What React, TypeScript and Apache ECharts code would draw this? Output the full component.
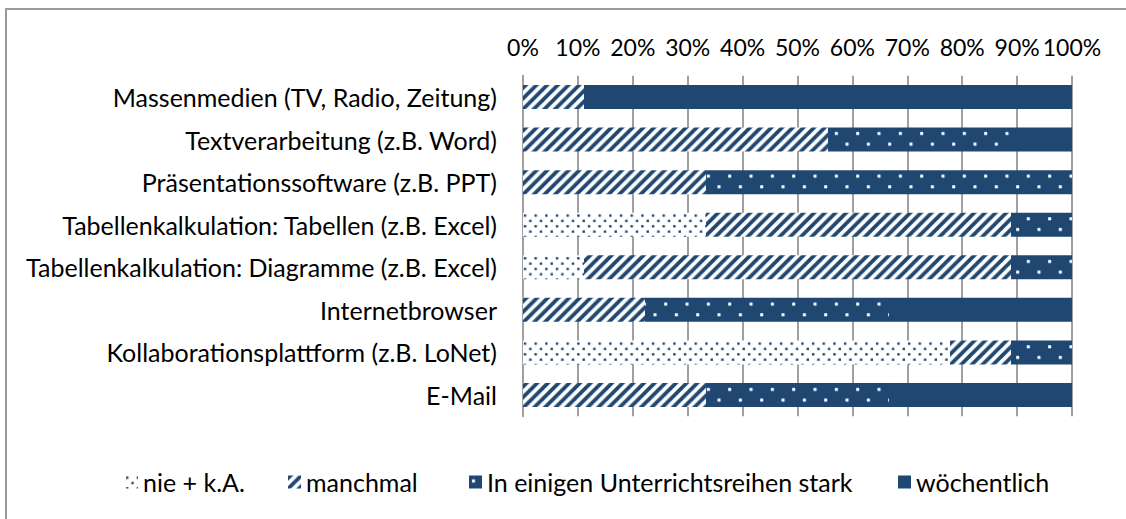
import React, { useEffect, useRef } from "react";
import * as echarts from "echarts";

const categories = [
  "Massenmedien (TV, Radio, Zeitung)",
  "Textverarbeitung (z.B. Word)",
  "Präsentationssoftware (z.B. PPT)",
  "Tabellenkalkulation: Tabellen (z.B. Excel)",
  "Tabellenkalkulation: Diagramme (z.B. Excel)",
  "Internetbrowser",
  "Kollaborationsplattform (z.B. LoNet)",
  "E-Mail",
];
const seriesNames = ["nie + k.A.", "manchmal", "In einigen Unterrichtsreihen stark", "wöchentlich"];
const nieKA = [0, 0, 0, 33.33, 11.11, 0, 77.78, 0];
const manchmal = [11.11, 55.56, 33.33, 55.56, 77.78, 22.22, 11.11, 33.33];
const stark = [0, 33.33, 66.67, 11.11, 11.11, 44.45, 11.11, 33.34];
const woechentlich = [88.89, 11.11, 0, 0, 0, 33.33, 0, 33.33];

const BLUE = "#1f4771";
const FONT = "Lato, 'Open Sans', sans-serif";

function svgUrl(svg: string) {
  return "data:image/svg+xml;charset=utf-8," + encodeURIComponent(svg);
}

const stripeSize = 10.67;
const stripePattern = {
  image: svgUrl(
    `<svg xmlns="http://www.w3.org/2000/svg" width="${stripeSize}" height="${stripeSize}" viewBox="0 0 8 8"><rect width="8" height="8" fill="#fff"/><polygon points="0,0 4,0 0,4" fill="${BLUE}"/><polygon points="8,0 8,4 4,8 0,8" fill="${BLUE}"/></svg>`
  ),
  repeat: "repeat",
  imageWidth: stripeSize,
  imageHeight: stripeSize,
};

const dotW = 10.67;
const dotPattern = {
  image: svgUrl(
    `<svg xmlns="http://www.w3.org/2000/svg" width="${dotW}" height="${dotW}" viewBox="0 0 ${dotW} ${dotW}"><rect width="${dotW}" height="${dotW}" fill="#fff"/><rect x="1" y="1" width="2.4" height="2.4" fill="${BLUE}"/><rect x="6.33" y="6.33" width="2.4" height="2.4" fill="${BLUE}"/></svg>`
  ),
  repeat: "repeat",
  imageWidth: dotW,
  imageHeight: dotW,
};

const sW = 21.33;
const starkPattern = {
  image: svgUrl(
    `<svg xmlns="http://www.w3.org/2000/svg" width="${sW}" height="${sW}" viewBox="0 0 ${sW} ${sW}"><rect width="${sW}" height="${sW}" fill="${BLUE}"/><rect x="3" y="4" width="3" height="3" fill="#fff"/><rect x="13.67" y="14.67" width="3" height="3" fill="#fff"/></svg>`
  ),
  repeat: "repeat",
  imageWidth: sW,
  imageHeight: sW,
};

const legendLefts = [120, 283, 464, 893];

export default function App() {
  const ref = useRef<HTMLDivElement>(null);
  useEffect(() => {
    if (!ref.current) return;
    const chart = echarts.init(ref.current, null, { renderer: "svg" });
    const mk = (name: string, data: number[], color: any) => ({
      name,
      type: "bar",
      stack: "total",
      data,
      barWidth: 24,
      itemStyle: { color },
      emphasis: { disabled: true },
    });
    chart.setOption({
      animation: false,
      backgroundColor: "#fff",
      textStyle: { fontFamily: FONT },
      grid: {
        left: 523,
        right: 54,
        top: 75.7,
        bottom: 102.7,
        containLabel: false,
        outerBoundsMode: "none",
      },
      xAxis: {
        type: "value",
        position: "top",
        min: 0,
        max: 100,
        interval: 10,
        axisLine: { show: false },
        axisTick: { show: false },
        axisLabel: {
          formatter: "{value}%",
          fontSize: 23,
          color: "#000",
          fontFamily: FONT,
          margin: 17,
          showMinLabel: true,
          showMaxLabel: true,
          hideOverlap: false,
        },
        splitLine: { show: true, lineStyle: { color: "#a0a0a0", width: 2 } },
      },
      yAxis: {
        type: "category",
        inverse: true,
        data: categories,
        axisLine: { show: true, lineStyle: { color: "#a0a0a0", width: 2 } },
        axisTick: { show: false },
        axisLabel: {
          fontSize: 25,
          color: "#000",
          fontFamily: FONT,
          margin: 26,
        },
      },
      legend: seriesNames.map((n, i) => ({
        left: legendLefts[i],
        top: 463,
        itemWidth: 13,
        itemHeight: 13,
        icon: "rect",
        textStyle: { fontSize: 25, color: "#000", fontFamily: FONT, lineHeight: 28 },
        data: [n],
      })),
      graphic: [
        {
          type: "rect",
          shape: { x: 6, y: 9, width: 1300, height: 700 },
          style: { fill: "none", stroke: "#9a9a9a", lineWidth: 2 },
          silent: true,
          z: 100,
        },
      ],
      series: [
        mk(seriesNames[0], nieKA, dotPattern),
        mk(seriesNames[1], manchmal, stripePattern),
        mk(seriesNames[2], stark, starkPattern),
        mk(seriesNames[3], woechentlich, BLUE),
      ],
    });
    return () => chart.dispose();
  }, []);
  return (
    <div
      ref={ref}
      style={{ position: "absolute", left: 0, top: 0, width: 1126, height: 519, background: "#fff" }}
    />
  );
}
